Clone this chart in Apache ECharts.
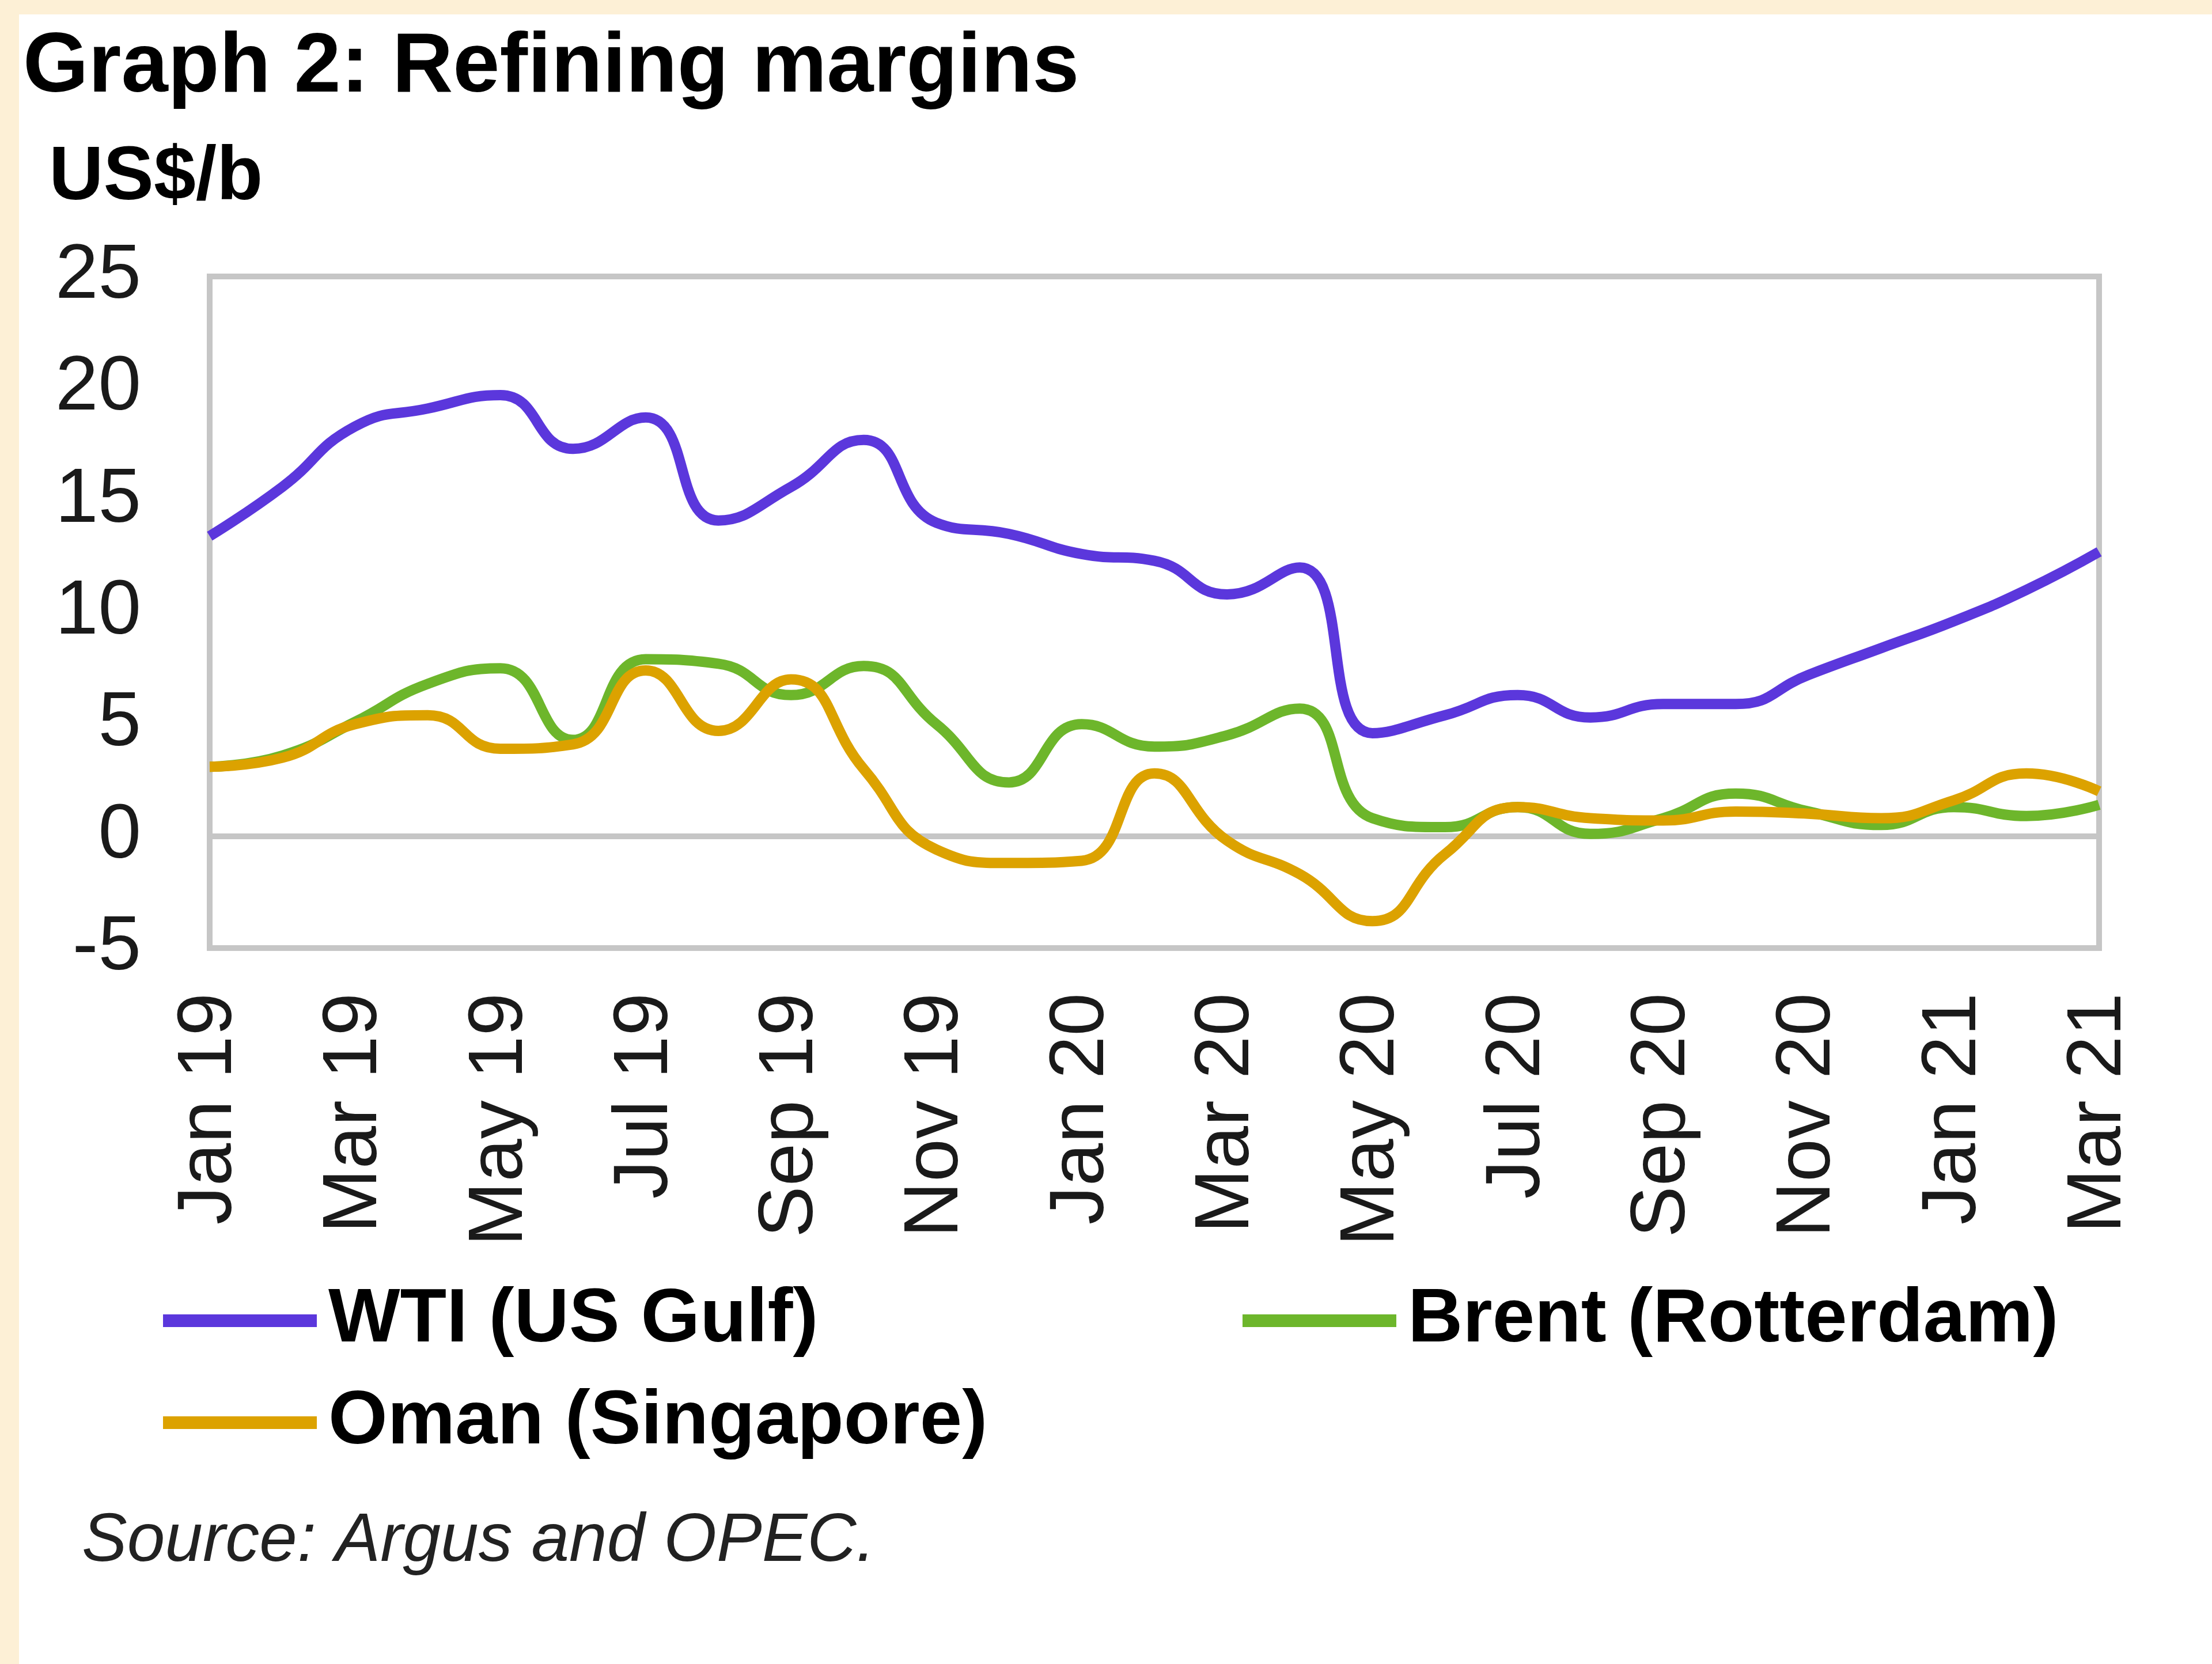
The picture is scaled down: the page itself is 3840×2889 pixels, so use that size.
<!DOCTYPE html>
<html>
<head>
<meta charset="utf-8">
<script src="https://cdn.jsdelivr.net/npm/echarts@6/dist/echarts.min.js"></script>
<style>
  html, body { margin: 0; padding: 0; background: #FDF0D6; }
  #panel { position: absolute; left: 33px; top: 25px; width: 3807px; height: 2864px; background: #ffffff; }
  #chart { position: absolute; left: 0; top: 0; width: 3840px; height: 2889px; }
</style>
</head>
<body>
<div id="panel"></div>
<div id="chart"></div>
<script>
const months = [
  'Jan 19','Feb 19','Mar 19','Apr 19','May 19','Jun 19','Jul 19','Aug 19','Sep 19','Oct 19','Nov 19','Dec 19',
  'Jan 20','Feb 20','Mar 20','Apr 20','May 20','Jun 20','Jul 20','Aug 20','Sep 20','Oct 20','Nov 20','Dec 20',
  'Jan 21','Feb 21','Mar 21'
];
const wti = [13.4, 15.6, 18.3, 19.1, 19.7, 17.3, 18.7, 14.1, 15.6, 17.7, 14.0, 13.5,
             12.6, 12.3, 10.8, 12.0, 4.6, 5.4, 6.3, 5.3, 5.9, 5.9, 7.2, 8.4,
             9.6, 11.0, 12.7];
const brent = [3.1, 3.6, 5.1, 6.8, 7.5, 4.3, 7.9, 7.7, 6.3, 7.6, 5.0, 2.4,
               5.0, 4.0, 4.5, 5.7, 0.8, 0.4, 1.3, 0.1, 0.8, 1.9, 1.1, 0.5,
               1.3, 0.9, 1.4];
const oman = [3.1, 3.5, 5.0, 5.4, 3.9, 4.1, 7.4, 4.7, 7.0, 3.0, -0.6, -1.2,
              -1.1, 2.8, -0.2, -1.7, -3.8, -0.8, 1.3, 0.8, 0.7, 1.1, 1.0, 0.8,
              1.6, 2.8, 2.0];
const seriesNames = ['WTI (US Gulf)', 'Brent (Rotterdam)', 'Oman (Singapore)'];
const seriesColors = ['#5B37DC', '#6DB62B', '#DCA200'];
const yTicks = { min: -5, max: 25, step: 5 };

const chart = echarts.init(document.getElementById('chart'), null, { renderer: 'canvas' });
const FONT = '"Liberation Sans", Arial, sans-serif';
const gridGray = '#C6C6C6';

const splitColors = [];
for (let v = yTicks.min; v <= yTicks.max; v += yTicks.step) {
  splitColors.push(v === 0 ? gridGray : 'rgba(0,0,0,0)');
}

function legendFor(name, left, top) {
  return {
    data: [name],
    left: left, top: top,
    orient: 'horizontal',
    icon: 'rect',
    itemWidth: 267, itemHeight: 22,
    padding: 0,
    selectedMode: false,
    textStyle: { fontFamily: FONT, fontSize: 132, fontWeight: 'bold', color: '#000', lineHeight: 132, padding: [0, 0, 0, 15] }
  };
}

chart.setOption({
  backgroundColor: 'transparent',
  animation: false,
  title: {
    text: 'Graph 2: Refining margins',
    left: 40, top: 46, padding: 0,
    textStyle: { fontFamily: FONT, fontSize: 146, fontWeight: 'bold', color: '#000', lineHeight: 146 }
  },
  legend: [
    legendFor(seriesNames[0], 283, 2227),
    legendFor(seriesNames[1], 2157, 2227),
    legendFor(seriesNames[2], 283, 2404)
  ],
  grid: {
    left: 364, right: 196, top: 480, bottom: 1243,
    show: true, borderColor: gridGray, borderWidth: 10, backgroundColor: 'transparent'
  },
  xAxis: {
    type: 'category',
    data: months,
    boundaryGap: false,
    axisLine: { show: false },
    axisTick: { show: false },
    splitLine: { show: false },
    axisLabel: {
      interval: 1, rotate: 90, margin: 78,
      fontFamily: FONT, fontSize: 134, color: '#1a1a1a'
    }
  },
  yAxis: {
    type: 'value',
    min: yTicks.min, max: yTicks.max, interval: yTicks.step,
    axisLine: { show: false },
    axisTick: { show: false },
    splitLine: { show: true, lineStyle: { color: splitColors, width: 10 } },
    axisLabel: {
      margin: 119, fontFamily: FONT, fontSize: 134, color: '#1a1a1a',
      padding: [0, 0, 28, 0]
    }
  },
  graphic: [
    { type: 'text', left: 85, top: 310 - 66,
      style: { text: 'US$/b', font: 'bold 131px ' + FONT, fill: '#000' } },
    { type: 'text', left: 142, top: 2677 - 59,
      style: { text: 'Source: Argus and OPEC.', font: 'italic 118px ' + FONT, fill: '#222' } }
  ],
  series: [
    { name: seriesNames[0], type: 'line', data: wti, smooth: 0.5, symbol: 'none',
      lineStyle: { width: 18, color: seriesColors[0] }, itemStyle: { color: seriesColors[0] }, z: 3 },
    { name: seriesNames[1], type: 'line', data: brent, smooth: 0.5, symbol: 'none',
      lineStyle: { width: 18, color: seriesColors[1] }, itemStyle: { color: seriesColors[1] }, z: 3 },
    { name: seriesNames[2], type: 'line', data: oman, smooth: 0.5, symbol: 'none',
      lineStyle: { width: 18, color: seriesColors[2] }, itemStyle: { color: seriesColors[2] }, z: 4 }
  ]
});
</script>
</body>
</html>
